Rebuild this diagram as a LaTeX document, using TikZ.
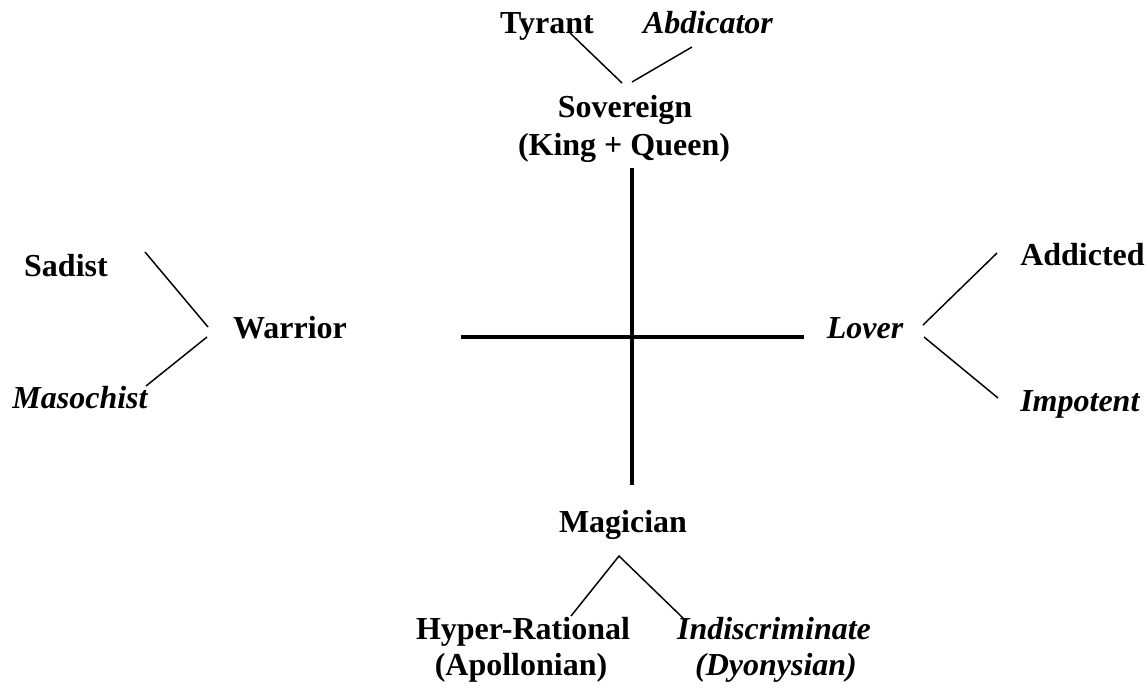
\documentclass[tikz,border=0pt]{standalone}
\usepackage{fontspec}
\setmainfont{Liberation Serif}
\begin{document}
\begin{tikzpicture}[x=0.75pt,y=-0.75pt,
  lbl/.style={anchor=base,inner sep=0pt,font=\fontsize{24}{27.6}\selectfont\bfseries},
  ilbl/.style={lbl,font=\fontsize{24}{27.6}\selectfont\bfseries\itshape},
  thin/.style={line width=1.1pt},
  axis/.style={line width=2.4pt}]
\useasboundingbox (0,0) rectangle (1148,687);
% labels
\node[lbl]  (tyrant) at (547,33) {Tyrant};
\node[ilbl] (abdic)  at (708,33) {Abdicator};
\node[lbl]  (sov)    at (625,117) {Sovereign};
\node[lbl]  (kq)     at (624,155) {(King + Queen)};
\node[lbl]  (sadist) at (66,276) {Sadist};
\node[lbl]  (warrior) at (290,338) {Warrior};
\node[ilbl] (maso)   at (80,408) {Masochist};
\node[ilbl] (lover)  at (865,338) {Lover};
\node[lbl,anchor=base west]  (addict) at (1020,265) {Addicted};
\node[ilbl,anchor=base west] (impot)  at (1020,411) {Impotent};
\node[lbl]  (magic)  at (623,532) {Magician};
\node[lbl]  (hyper)  at (523,639) {Hyper-Rational};
\node[lbl]  (apoll)  at (521,675) {(Apollonian)};
\node[ilbl] (indis)  at (774,639) {Indiscriminate};
\node[ilbl] (dyon)   at (776,675) {(Dyonysian)};
% connector end points
\coordinate (tyE) at (570,33);
\coordinate (sovL) at (622,83);
\coordinate (sovR) at (632,82);
\coordinate (abE) at (692,47);
\coordinate (vTop) at (632,168);
\coordinate (vBot) at (632,485);
\coordinate (hL) at (461,337);
\coordinate (hR) at (804,337);
\coordinate (sadE) at (145,252);
\coordinate (warU) at (208,327);
\coordinate (warD) at (207,337);
\coordinate (masE) at (146,386);
\coordinate (lovU) at (923,325);
\coordinate (lovD) at (924,337);
\coordinate (addE) at (997,253);
\coordinate (impE) at (998,398);
\coordinate (magA) at (619,556);
\coordinate (hypE) at (571,616);
\coordinate (indE) at (683,618);
% connectors
\draw[thin] (tyE) -- (sovL);
\draw[thin] (sovR) -- (abE);
\draw[axis] (vTop) -- (vBot);
\draw[axis] (hL) -- (hR);
\draw[thin] (sadE) -- (warU);
\draw[thin] (warD) -- (masE);
\draw[thin] (lovU) -- (addE);
\draw[thin] (lovD) -- (impE);
\draw[thin] (hypE) -- (magA) -- (indE);
\end{tikzpicture}
\end{document}
